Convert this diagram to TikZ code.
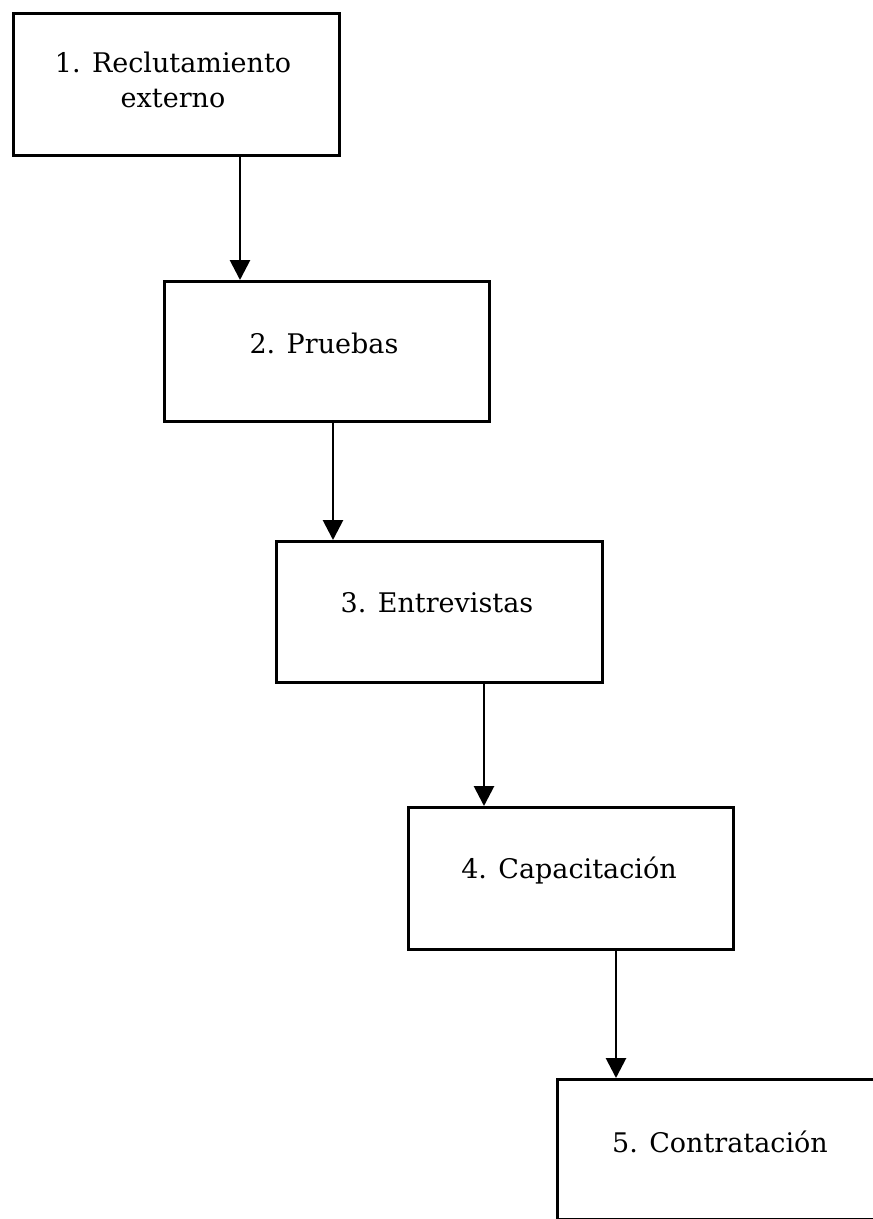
\documentclass[tikz,border=0pt]{standalone}
\usepackage{fontspec}
\setmainfont{DejaVu Serif}
\usetikzlibrary{arrows.meta}
\begin{document}
\begin{tikzpicture}[x=1pt,y=-1pt]
\tikzset{
  stagebox/.style={draw=black, line width=2.8pt, inner sep=0pt, anchor=north west,
                   minimum width=325pt, minimum height=141pt},
  stagetext/.style={font=\fontsize{27}{35}\selectfont, align=center, inner sep=0pt},
  flow/.style={line width=2.8pt, -{Triangle[width=20pt,length=20pt]}}
}
\useasboundingbox (0,0) rectangle (873,1219);

% process stages
\node[stagebox, minimum width=326pt, minimum height=142pt] (b1) at (12,12) {};
\node[stagetext] (t1) at (173,80) {1. Reclutamiento\\externo};

\node[stagebox, minimum height=140pt] (b2) at (163,280) {};
\node[stagetext] (t2) at (324,343) {2. Pruebas};

\node[stagebox, minimum width=326pt] (b3) at (275,540) {};
\node[stagetext] (t3) at (437,603) {3. Entrevistas};

\node[stagebox, minimum height=142pt] (b4) at (407,806) {};
\node[stagetext] (t4) at (569,870) {4. Capacitación};

\node[stagebox, minimum width=330pt, minimum height=140pt] (b5) at (556,1078) {};
\node[stagetext] (t5) at (720,1142) {5. Contratación};

% arrow columns
\coordinate (c1) at (240,0);
\coordinate (c2) at (333,0);
\coordinate (c3) at (484,0);
\coordinate (c4) at (616,0);

\draw[flow] (b1.south -| c1) -- (b2.north -| c1);
\draw[flow] (b2.south -| c2) -- (b3.north -| c2);
\draw[flow] (b3.south -| c3) -- (b4.north -| c3);
\draw[flow] (b4.south -| c4) -- (b5.north -| c4);
\end{tikzpicture}
\end{document}
